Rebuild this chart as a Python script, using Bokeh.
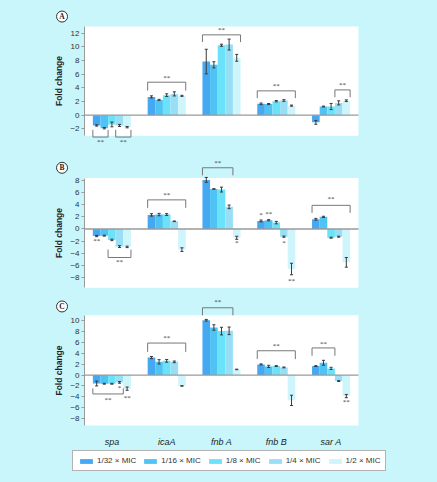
from bokeh.plotting import figure
from bokeh.models import (ColumnDataSource, Range1d, FixedTicker, BoxAnnotation, Legend, LegendItem)
from bokeh.layouts import column
from bokeh.embed import file_html
from bokeh.resources import INLINE

# ---------------- data ----------------
genes = ["spa", "icaA", "fnb A", "fnb B", "sar A"]
doses = ["1/32 × MIC", "1/16 × MIC", "1/8 × MIC", "1/4 × MIC", "1/2 × MIC"]
dose_colors = ["#45a8f2", "#4fc3f3", "#6ae3fa", "#98dff6", "#cff5fc"]

# Panel A: mean fold change per gene, one value per dose (1/32 .. 1/2 MIC)
A_spa = [-1.5, -1.9, -1.35, -1.5, -1.75]
A_icaA = [2.68, 2.24, 2.93, 3.12, 2.83]
A_fnbA = [7.85, 7.37, 10.24, 10.34, 8.4]
A_fnbB = [1.66, 1.63, 2.05, 2.15, 1.4]
A_sarA = [-1.05, 1.27, 1.27, 1.8, 2.12]
A_spa_err = [0.1, 0.1, 0.35, 0.15, 0.1]
A_icaA_err = [0.15, 0.08, 0.2, 0.3, 0.08]
A_fnbA_err = [1.8, 0.45, 0.15, 0.8, 0.5]
A_fnbB_err = [0.12, 0.08, 0.1, 0.12, 0.08]
A_sarA_err = [0.28, 0.06, 0.45, 0.3, 0.12]

# Panel B
B_spa = [-1.16, -1.1, -1.8, -2.9, -2.95]
B_icaA = [2.32, 2.38, 2.38, 1.27, -3.4]
B_fnbA = [8.1, 6.6, 6.5, 3.65, -1.45]
B_fnbB = [1.33, 1.44, 1.05, -1.27, -6.6]
B_sarA = [1.6, 2.0, -1.44, -1.27, -5.5]
B_spa_err = [0.1, 0.08, 0.12, 0.15, 0.12]
B_icaA_err = [0.2, 0.2, 0.15, 0.05, 0.3]
B_fnbA_err = [0.4, 0.05, 0.4, 0.3, 0.25]
B_fnbB_err = [0.15, 0.1, 0.2, 0.1, 0.95]
B_sarA_err = [0.15, 0.1, 0.08, 0.08, 0.8]

# Panel C
C_spa = [-1.55, -1.6, -1.6, -1.35, -2.5]
C_icaA = [3.23, 2.44, 2.62, 2.44, -2.0]
C_fnbA = [10.1, 8.77, 8.1, 8.15, 1.04]
C_fnbB = [1.96, 1.6, 1.66, 1.41, -4.66]
C_sarA = [1.66, 2.27, 1.23, -1.1, -3.87]
C_spa_err = [0.45, 0.08, 0.08, 0.15, 0.3]
C_icaA_err = [0.2, 0.4, 0.25, 0.15, 0.05]
C_fnbA_err = [0.15, 0.5, 0.7, 0.7, 0.05]
C_fnbB_err = [0.1, 0.2, 0.08, 0.08, 0.95]
C_sarA_err = [0.08, 0.45, 0.2, 0.08, 0.3]

# significance brackets: (gene, first dose idx, last dose idx, y at bar end, y of bar line, y of label)
A_brackets = [("spa", 0, 1, -2.15, -3.2, -3.95), ("spa", 3, 4, -2.15, -3.2, -3.95),
              ("icaA", 0, 4, 3.6, 4.83, 5.5), ("fnb A", 0, 4, 10.7, 11.76, 12.4),
              ("fnb B", 0, 4, 2.49, 3.56, 4.3), ("sar A", 3, 4, 2.63, 3.7, 4.4)]
B_brackets = [("spa", 2, 4, -3.4, -4.7, -5.5), ("icaA", 0, 4, 3.48, 4.8, 5.6),
              ("fnb A", 0, 3, 8.84, 10.1, 10.9), ("sar A", 0, 4, 2.65, 3.9, 4.9)]
C_brackets = [("spa", 0, 3, -2.44, -3.48, -4.5), ("icaA", 0, 4, 4.27, 5.9, 6.9),
              ("fnb A", 0, 3, 11.0, 12.4, 13.4), ("fnb B", 0, 4, 2.95, 4.48, 5.3),
              ("sar A", 0, 2, 3.56, 5.0, 5.77)]
# single-bar significance marks: (gene, dose idx, y, text)
A_stars = []
B_stars = [("spa", 0, -2.0, "**"), ("fnb A", 4, -2.35, "*"), ("fnb B", 0, 2.3, "*"),
           ("fnb B", 1, 2.4, "**"), ("fnb B", 3, -2.3, "*"), ("fnb B", 4, -8.5, "**")]
C_stars = [("spa", 3, -2.3, "*"), ("spa", 4, -4.15, "**"), ("sar A", 4, -5.0, "**")]

# ---------------- style ----------------
BG = "#c8f6fb"
FONT = "Liberation Sans"
BAR_W = 0.139
ERR_C = "#3a3a3a"
BR_C = "#777777"
W = 437
X_RANGE = (-1.533, 6.442)   # gene slots span 0..5 inside the white plot area


def bar_x(gene, j):
    return genes.index(gene) + 0.5 + (j - 2) * BAR_W


def make_panel(letter, means, errs, brackets, stars, y_rng, bounds, ticks,
               height, letter_y, show_x):
    p = figure(width=W, height=height, title=None,
               x_range=Range1d(*X_RANGE), y_range=Range1d(*y_rng),
               output_backend="svg", toolbar_location=None,
               min_border_left=0, min_border_right=0,
               min_border_top=0, min_border_bottom=0,
               x_axis_location="below" if show_x else None)
    p.background_fill_color = BG
    p.border_fill_color = BG
    p.outline_line_color = None
    p.xgrid.visible = False
    p.ygrid.visible = False

    n = len(genes)
    p.add_layout(BoxAnnotation(left=0, right=n, bottom=bounds[0], top=bounds[1],
                               fill_color="white", fill_alpha=1, line_color=None,
                               level="underlay"))

    renderers = []
    for j in range(len(doses)):
        xs = [bar_x(g, j) for g in genes]
        tops = [means[g][j] for g in genes]
        es = [errs[g][j] for g in genes]
        src = ColumnDataSource(dict(x=xs, top=tops, lo=[t - e for t, e in zip(tops, es)],
                                    hi=[t + e for t, e in zip(tops, es)],
                                    cl=[x - 0.028 for x in xs], cr=[x + 0.028 for x in xs]))
        r = p.vbar(x="x", top="top", bottom=0, width=BAR_W, fill_color=dose_colors[j],
                   line_color=None, source=src)
        renderers.append(r)
        p.segment(x0="x", y0="lo", x1="x", y1="hi", line_color=ERR_C, line_width=1, source=src)
        p.segment(x0="cl", y0="lo", x1="cr", y1="lo", line_color=ERR_C, line_width=1, source=src)
        p.segment(x0="cl", y0="hi", x1="cr", y1="hi", line_color=ERR_C, line_width=1, source=src)

    # zero line across the plot area
    p.segment(x0=[0], y0=[0], x1=[n], y1=[0], line_color="#9a9a9a", line_width=1.3)

    bxs, bys, tx, ty, tt = [], [], [], [], []
    for g, a, b, ye, yl, yt in brackets:
        x0 = bar_x(g, a) - BAR_W / 2
        x1 = bar_x(g, b) + BAR_W / 2
        bxs.append([x0, x0, x1, x1])
        bys.append([ye, yl, yl, ye])
        tx.append((x0 + x1) / 2)
        ty.append(yt)
        tt.append("**")
    if bxs:
        p.multi_line(xs=bxs, ys=bys, line_color=BR_C, line_width=1)
    for g, j, y, t in stars:
        tx.append(bar_x(g, j))
        ty.append(y)
        tt.append(t)
    p.text(x=tx, y=ty, text=tt, text_align="center", text_baseline="middle",
           text_font_size="7px", text_color="#444444", text_font=FONT)

    # circled panel letter
    p.scatter(x=[-0.41], y=[letter_y], marker="circle", size=11, fill_color="white",
              line_color="#333333", line_width=1)
    p.text(x=[-0.41], y=[letter_y], text=[letter], text_align="center",
           text_baseline="middle", text_font_size="7.5px", text_font_style="bold",
           text_color="#222222", text_font=FONT)

    ax = p.yaxis[0]
    ax.fixed_location = 0
    ax.ticker = FixedTicker(ticks=ticks)
    ax.bounds = bounds
    ax.axis_label = "Fold change"
    ax.axis_label_text_font = FONT
    ax.axis_label_text_font_size = "8.5px"
    ax.axis_label_text_font_style = "bold"
    ax.axis_label_text_color = "#222222"
    ax.axis_label_standoff = 3
    ax.major_label_text_font = FONT
    ax.major_label_text_font_size = "8px"
    ax.major_label_text_color = "#333333"
    ax.major_label_standoff = 2
    ax.axis_line_color = "#9a9a9a"
    ax.major_tick_line_color = "#9a9a9a"
    ax.major_tick_out = 3
    ax.major_tick_in = 0
    ax.minor_tick_line_color = None

    if show_x:
        xa = p.xaxis[0]
        xa.fixed_location = bounds[0]
        xa.ticker = FixedTicker(ticks=[i + 0.5 for i in range(n)])
        xa.major_label_overrides = {i + 0.5: g for i, g in enumerate(genes)}
        xa.axis_line_color = None
        xa.major_tick_line_color = None
        xa.minor_tick_line_color = None
        xa.major_label_text_font = FONT
        xa.major_label_text_font_style = "italic"
        xa.major_label_text_font_size = "9px"
        xa.major_label_text_color = "#222222"
        xa.major_label_standoff = 5
    return p, renderers


pA, _ = make_panel("A",
                   {"spa": A_spa, "icaA": A_icaA, "fnb A": A_fnbA, "fnb B": A_fnbB, "sar A": A_sarA},
                   {"spa": A_spa_err, "icaA": A_icaA_err, "fnb A": A_fnbA_err, "fnb B": A_fnbB_err, "sar A": A_sarA_err},
                   A_brackets, A_stars, (-4.73, 16.79), (-3, 13), list(range(-2, 13, 2)),
                   147, 14.44, False)
pB, _ = make_panel("B",
                   {"spa": B_spa, "icaA": B_icaA, "fnb A": B_fnbA, "fnb B": B_fnbB, "sar A": B_sarA},
                   {"spa": B_spa_err, "icaA": B_icaA_err, "fnb A": B_fnbA_err, "fnb B": B_fnbB_err, "sar A": B_sarA_err},
                   B_brackets, B_stars, (-10.97, 13.44), (-9.7, 8.4), list(range(-8, 9, 2)),
                   148, 10.09, False)
pC, rC = make_panel("C",
                    {"spa": C_spa, "icaA": C_icaA, "fnb A": C_fnbA, "fnb B": C_fnbB, "sar A": C_sarA},
                    {"spa": C_spa_err, "icaA": C_icaA_err, "fnb A": C_fnbA_err, "fnb B": C_fnbB_err, "sar A": C_sarA_err},
                    C_brackets, C_stars, (-19.79, 14.66), (-9.3, 11), list(range(-8, 11, 2)),
                    187, 12.64, True)

legend = Legend(items=[LegendItem(label=d, renderers=[r]) for d, r in zip(doses, rC)],
                orientation="horizontal", location=(72, 11),
                label_text_font=FONT, label_text_font_size="8px", label_text_color="#333333",
                glyph_width=16, glyph_height=6, label_height=9, label_standoff=3, spacing=6,
                padding=5, margin=0, border_line_color="#666666", border_line_width=1,
                background_fill_color="white", background_fill_alpha=1)
pC.add_layout(legend)

layout = column(pA, pB, pC, spacing=0, styles={"background-color": BG})
open("out.html", "w").write(file_html(layout, INLINE))
